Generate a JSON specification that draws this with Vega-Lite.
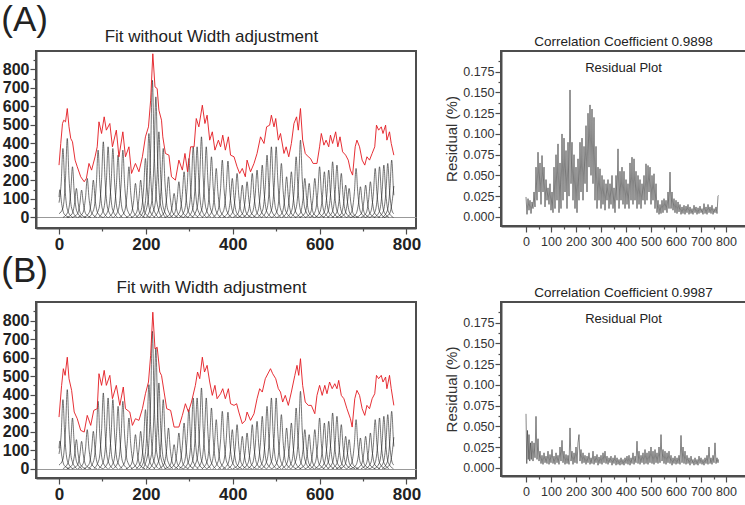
{
"$schema":"https://vega.github.io/schema/vega-lite/v6.json",
"padding":{"left":1,"top":2,"right":0,"bottom":0},
"config":{
"view":{"stroke":"#4d4d4d","strokeWidth":2},
"axis":{"domainColor":"#4d4d4d","domainWidth":2,"tickColor":"#4d4d4d","tickWidth":1.2,"grid":false,"labelColor":"#222","labelFont":"Liberation Sans","titleFont":"Liberation Sans","titleFontWeight":"normal","labelOverlap":false,"labelFlush":false,"labelBound":false},
"title":{"font":"Liberation Sans","fontWeight":"normal","color":"#222","subtitleFont":"Liberation Sans","subtitleColor":"#222"}
},
"datasets":{
"pk":[
{"p":1,"x":0,"y":110},{"p":1,"x":2,"y":150},{"p":1,"x":6,"y":75},{"p":1,"x":12,"y":18},{"p":1,"x":24,"y":0},
{"p":2,"x":0,"y":80},{"p":2,"x":5,"y":187},{"p":2,"x":9,"y":373},{"p":2,"x":13,"y":187},{"p":2,"x":19,"y":45},{"p":2,"x":31,"y":0},
{"p":3,"x":0,"y":20},{"p":3,"x":9,"y":51},{"p":3,"x":15,"y":214},{"p":3,"x":19,"y":427},{"p":3,"x":23,"y":214},{"p":3,"x":29,"y":51},{"p":3,"x":41,"y":0},
{"p":4,"x":9,"y":0},{"p":4,"x":21,"y":33},{"p":4,"x":27,"y":137},{"p":4,"x":31,"y":274},{"p":4,"x":35,"y":137},{"p":4,"x":41,"y":33},{"p":4,"x":53,"y":0},
{"p":5,"x":18,"y":0},{"p":5,"x":30,"y":19},{"p":5,"x":36,"y":79},{"p":5,"x":40,"y":157},{"p":5,"x":44,"y":79},{"p":5,"x":50,"y":19},{"p":5,"x":62,"y":0},
{"p":6,"x":30,"y":0},{"p":6,"x":42,"y":18},{"p":6,"x":48,"y":74},{"p":6,"x":52,"y":148},{"p":6,"x":56,"y":74},{"p":6,"x":62,"y":18},{"p":6,"x":74,"y":0},
{"p":7,"x":43,"y":0},{"p":7,"x":55,"y":25},{"p":7,"x":61,"y":106},{"p":7,"x":65,"y":211},{"p":7,"x":69,"y":106},{"p":7,"x":75,"y":25},{"p":7,"x":87,"y":0},
{"p":8,"x":57,"y":0},{"p":8,"x":69,"y":24},{"p":8,"x":75,"y":101},{"p":8,"x":79,"y":202},{"p":8,"x":83,"y":101},{"p":8,"x":89,"y":24},{"p":8,"x":101,"y":0},
{"p":9,"x":68,"y":0},{"p":9,"x":80,"y":44},{"p":9,"x":86,"y":182},{"p":9,"x":90,"y":364},{"p":9,"x":94,"y":182},{"p":9,"x":100,"y":44},{"p":9,"x":112,"y":0},
{"p":10,"x":80,"y":0},{"p":10,"x":92,"y":49},{"p":10,"x":98,"y":205},{"p":10,"x":102,"y":409},{"p":10,"x":106,"y":205},{"p":10,"x":112,"y":49},{"p":10,"x":124,"y":0},
{"p":11,"x":91,"y":0},{"p":11,"x":103,"y":46},{"p":11,"x":109,"y":191},{"p":11,"x":113,"y":382},{"p":11,"x":117,"y":191},{"p":11,"x":123,"y":46},{"p":11,"x":135,"y":0},
{"p":12,"x":102,"y":0},{"p":12,"x":114,"y":45},{"p":12,"x":120,"y":187},{"p":12,"x":124,"y":373},{"p":12,"x":128,"y":187},{"p":12,"x":134,"y":45},{"p":12,"x":146,"y":0},
{"p":13,"x":114,"y":0},{"p":13,"x":126,"y":40},{"p":13,"x":132,"y":169},{"p":13,"x":136,"y":337},{"p":13,"x":140,"y":169},{"p":13,"x":146,"y":40},{"p":13,"x":158,"y":0},
{"p":14,"x":125,"y":0},{"p":14,"x":137,"y":44},{"p":14,"x":143,"y":182},{"p":14,"x":147,"y":364},{"p":14,"x":151,"y":182},{"p":14,"x":157,"y":44},{"p":14,"x":169,"y":0},
{"p":15,"x":139,"y":0},{"p":15,"x":151,"y":33},{"p":15,"x":157,"y":137},{"p":15,"x":161,"y":274},{"p":15,"x":165,"y":137},{"p":15,"x":171,"y":33},{"p":15,"x":183,"y":0},
{"p":16,"x":154,"y":0},{"p":16,"x":166,"y":22},{"p":16,"x":172,"y":92},{"p":16,"x":176,"y":184},{"p":16,"x":180,"y":92},{"p":16,"x":186,"y":22},{"p":16,"x":198,"y":0},
{"p":17,"x":166,"y":0},{"p":17,"x":178,"y":24},{"p":17,"x":184,"y":101},{"p":17,"x":188,"y":202},{"p":17,"x":192,"y":101},{"p":17,"x":198,"y":24},{"p":17,"x":210,"y":0},
{"p":18,"x":177,"y":0},{"p":18,"x":189,"y":38},{"p":18,"x":195,"y":160},{"p":18,"x":199,"y":319},{"p":18,"x":203,"y":160},{"p":18,"x":209,"y":38},{"p":18,"x":221,"y":0},
{"p":19,"x":185,"y":0},{"p":19,"x":197,"y":54},{"p":19,"x":203,"y":227},{"p":19,"x":207,"y":454},{"p":19,"x":211,"y":227},{"p":19,"x":217,"y":54},{"p":19,"x":229,"y":0},
{"p":20,"x":193,"y":0},{"p":20,"x":205,"y":89},{"p":20,"x":211,"y":371},{"p":20,"x":215,"y":742},{"p":20,"x":219,"y":371},{"p":20,"x":225,"y":89},{"p":20,"x":237,"y":0},
{"p":21,"x":201,"y":0},{"p":21,"x":213,"y":78},{"p":21,"x":219,"y":326},{"p":21,"x":223,"y":652},{"p":21,"x":227,"y":326},{"p":21,"x":233,"y":78},{"p":21,"x":245,"y":0},
{"p":22,"x":208,"y":0},{"p":22,"x":220,"y":56},{"p":22,"x":226,"y":232},{"p":22,"x":230,"y":463},{"p":22,"x":234,"y":232},{"p":22,"x":240,"y":56},{"p":22,"x":252,"y":0},
{"p":23,"x":218,"y":0},{"p":23,"x":230,"y":45},{"p":23,"x":236,"y":187},{"p":23,"x":240,"y":373},{"p":23,"x":244,"y":187},{"p":23,"x":250,"y":45},{"p":23,"x":262,"y":0},
{"p":24,"x":230,"y":0},{"p":24,"x":242,"y":26},{"p":24,"x":248,"y":110},{"p":24,"x":252,"y":220},{"p":24,"x":256,"y":110},{"p":24,"x":262,"y":26},{"p":24,"x":274,"y":0},
{"p":25,"x":243,"y":0},{"p":25,"x":255,"y":16},{"p":25,"x":261,"y":65},{"p":25,"x":265,"y":130},{"p":25,"x":269,"y":65},{"p":25,"x":275,"y":16},{"p":25,"x":287,"y":0},
{"p":26,"x":254,"y":0},{"p":26,"x":266,"y":23},{"p":26,"x":272,"y":97},{"p":26,"x":276,"y":193},{"p":26,"x":280,"y":97},{"p":26,"x":286,"y":23},{"p":26,"x":298,"y":0},
{"p":27,"x":266,"y":0},{"p":27,"x":278,"y":30},{"p":27,"x":284,"y":124},{"p":27,"x":288,"y":247},{"p":27,"x":292,"y":124},{"p":27,"x":298,"y":30},{"p":27,"x":310,"y":0},
{"p":28,"x":277,"y":0},{"p":28,"x":289,"y":38},{"p":28,"x":295,"y":160},{"p":28,"x":299,"y":319},{"p":28,"x":303,"y":160},{"p":28,"x":309,"y":38},{"p":28,"x":321,"y":0},
{"p":29,"x":287,"y":0},{"p":29,"x":299,"y":46},{"p":29,"x":305,"y":191},{"p":29,"x":309,"y":382},{"p":29,"x":313,"y":191},{"p":29,"x":319,"y":46},{"p":29,"x":331,"y":0},
{"p":30,"x":296,"y":0},{"p":30,"x":308,"y":46},{"p":30,"x":314,"y":191},{"p":30,"x":318,"y":382},{"p":30,"x":322,"y":191},{"p":30,"x":328,"y":46},{"p":30,"x":340,"y":0},
{"p":31,"x":306,"y":0},{"p":31,"x":318,"y":52},{"p":31,"x":324,"y":218},{"p":31,"x":328,"y":436},{"p":31,"x":332,"y":218},{"p":31,"x":338,"y":52},{"p":31,"x":350,"y":0},
{"p":32,"x":317,"y":0},{"p":32,"x":329,"y":46},{"p":32,"x":335,"y":191},{"p":32,"x":339,"y":382},{"p":32,"x":343,"y":191},{"p":32,"x":349,"y":46},{"p":32,"x":361,"y":0},
{"p":33,"x":329,"y":0},{"p":33,"x":341,"y":39},{"p":33,"x":347,"y":164},{"p":33,"x":351,"y":328},{"p":33,"x":355,"y":164},{"p":33,"x":361,"y":39},{"p":33,"x":373,"y":0},
{"p":34,"x":340,"y":0},{"p":34,"x":352,"y":32},{"p":34,"x":358,"y":133},{"p":34,"x":362,"y":265},{"p":34,"x":366,"y":133},{"p":34,"x":372,"y":32},{"p":34,"x":384,"y":0},
{"p":35,"x":354,"y":0},{"p":35,"x":366,"y":37},{"p":35,"x":372,"y":155},{"p":35,"x":376,"y":310},{"p":35,"x":380,"y":155},{"p":35,"x":386,"y":37},{"p":35,"x":398,"y":0},
{"p":36,"x":367,"y":0},{"p":36,"x":379,"y":37},{"p":36,"x":385,"y":153},{"p":36,"x":389,"y":305},{"p":36,"x":393,"y":153},{"p":36,"x":399,"y":37},{"p":36,"x":411,"y":0},
{"p":37,"x":377,"y":0},{"p":37,"x":389,"y":25},{"p":37,"x":395,"y":106},{"p":37,"x":399,"y":211},{"p":37,"x":403,"y":106},{"p":37,"x":409,"y":25},{"p":37,"x":421,"y":0},
{"p":38,"x":388,"y":0},{"p":38,"x":400,"y":29},{"p":38,"x":406,"y":119},{"p":38,"x":410,"y":238},{"p":38,"x":414,"y":119},{"p":38,"x":420,"y":29},{"p":38,"x":432,"y":0},
{"p":39,"x":400,"y":0},{"p":39,"x":412,"y":21},{"p":39,"x":418,"y":88},{"p":39,"x":422,"y":175},{"p":39,"x":426,"y":88},{"p":39,"x":432,"y":21},{"p":39,"x":444,"y":0},
{"p":40,"x":411,"y":0},{"p":40,"x":423,"y":23},{"p":40,"x":429,"y":97},{"p":40,"x":433,"y":193},{"p":40,"x":437,"y":97},{"p":40,"x":443,"y":23},{"p":40,"x":455,"y":0},
{"p":41,"x":423,"y":0},{"p":41,"x":435,"y":29},{"p":41,"x":441,"y":119},{"p":41,"x":445,"y":238},{"p":41,"x":449,"y":119},{"p":41,"x":455,"y":29},{"p":41,"x":467,"y":0},
{"p":42,"x":434,"y":0},{"p":42,"x":446,"y":31},{"p":42,"x":452,"y":128},{"p":42,"x":456,"y":256},{"p":42,"x":460,"y":128},{"p":42,"x":466,"y":31},{"p":42,"x":478,"y":0},
{"p":43,"x":446,"y":0},{"p":43,"x":458,"y":34},{"p":43,"x":464,"y":142},{"p":43,"x":468,"y":283},{"p":43,"x":472,"y":142},{"p":43,"x":478,"y":34},{"p":43,"x":490,"y":0},
{"p":44,"x":457,"y":0},{"p":44,"x":469,"y":40},{"p":44,"x":475,"y":169},{"p":44,"x":479,"y":337},{"p":44,"x":483,"y":169},{"p":44,"x":489,"y":40},{"p":44,"x":501,"y":0},
{"p":45,"x":467,"y":0},{"p":45,"x":479,"y":46},{"p":45,"x":485,"y":191},{"p":45,"x":489,"y":382},{"p":45,"x":493,"y":191},{"p":45,"x":499,"y":46},{"p":45,"x":511,"y":0},
{"p":46,"x":478,"y":0},{"p":46,"x":490,"y":46},{"p":46,"x":496,"y":191},{"p":46,"x":500,"y":382},{"p":46,"x":504,"y":191},{"p":46,"x":510,"y":46},{"p":46,"x":522,"y":0},
{"p":47,"x":490,"y":0},{"p":47,"x":502,"y":35},{"p":47,"x":508,"y":146},{"p":47,"x":512,"y":292},{"p":47,"x":516,"y":146},{"p":47,"x":522,"y":35},{"p":47,"x":534,"y":0},
{"p":48,"x":502,"y":0},{"p":48,"x":514,"y":26},{"p":48,"x":520,"y":110},{"p":48,"x":524,"y":220},{"p":48,"x":528,"y":110},{"p":48,"x":534,"y":26},{"p":48,"x":546,"y":0},
{"p":49,"x":513,"y":0},{"p":49,"x":525,"y":30},{"p":49,"x":531,"y":124},{"p":49,"x":535,"y":247},{"p":49,"x":539,"y":124},{"p":49,"x":545,"y":30},{"p":49,"x":557,"y":0},
{"p":50,"x":524,"y":0},{"p":50,"x":536,"y":39},{"p":50,"x":542,"y":164},{"p":50,"x":546,"y":328},{"p":50,"x":550,"y":164},{"p":50,"x":556,"y":39},{"p":50,"x":568,"y":0},
{"p":51,"x":534,"y":0},{"p":51,"x":546,"y":50},{"p":51,"x":552,"y":209},{"p":51,"x":556,"y":418},{"p":51,"x":560,"y":209},{"p":51,"x":566,"y":50},{"p":51,"x":578,"y":0},
{"p":52,"x":544,"y":0},{"p":52,"x":556,"y":25},{"p":52,"x":562,"y":106},{"p":52,"x":566,"y":211},{"p":52,"x":570,"y":106},{"p":52,"x":576,"y":25},{"p":52,"x":588,"y":0},
{"p":53,"x":554,"y":0},{"p":53,"x":566,"y":22},{"p":53,"x":572,"y":92},{"p":53,"x":576,"y":184},{"p":53,"x":580,"y":92},{"p":53,"x":586,"y":22},{"p":53,"x":598,"y":0},
{"p":54,"x":567,"y":0},{"p":54,"x":579,"y":25},{"p":54,"x":585,"y":106},{"p":54,"x":589,"y":211},{"p":54,"x":593,"y":106},{"p":54,"x":599,"y":25},{"p":54,"x":611,"y":0},
{"p":55,"x":578,"y":0},{"p":55,"x":590,"y":33},{"p":55,"x":596,"y":137},{"p":55,"x":600,"y":274},{"p":55,"x":604,"y":137},{"p":55,"x":610,"y":33},{"p":55,"x":622,"y":0},
{"p":56,"x":589,"y":0},{"p":56,"x":601,"y":30},{"p":56,"x":607,"y":124},{"p":56,"x":611,"y":247},{"p":56,"x":615,"y":124},{"p":56,"x":621,"y":30},{"p":56,"x":633,"y":0},
{"p":57,"x":599,"y":0},{"p":57,"x":611,"y":31},{"p":57,"x":617,"y":128},{"p":57,"x":621,"y":256},{"p":57,"x":625,"y":128},{"p":57,"x":631,"y":31},{"p":57,"x":643,"y":0},
{"p":58,"x":608,"y":0},{"p":58,"x":620,"y":36},{"p":58,"x":626,"y":151},{"p":58,"x":630,"y":301},{"p":58,"x":634,"y":151},{"p":58,"x":640,"y":36},{"p":58,"x":652,"y":0},
{"p":59,"x":618,"y":0},{"p":59,"x":630,"y":34},{"p":59,"x":636,"y":142},{"p":59,"x":640,"y":283},{"p":59,"x":644,"y":142},{"p":59,"x":650,"y":34},{"p":59,"x":662,"y":0},
{"p":60,"x":628,"y":0},{"p":60,"x":640,"y":29},{"p":60,"x":646,"y":119},{"p":60,"x":650,"y":238},{"p":60,"x":654,"y":119},{"p":60,"x":660,"y":29},{"p":60,"x":672,"y":0},
{"p":61,"x":638,"y":0},{"p":61,"x":650,"y":21},{"p":61,"x":656,"y":88},{"p":61,"x":660,"y":175},{"p":61,"x":664,"y":88},{"p":61,"x":670,"y":21},{"p":61,"x":682,"y":0},
{"p":62,"x":646,"y":0},{"p":62,"x":658,"y":19},{"p":62,"x":664,"y":79},{"p":62,"x":668,"y":157},{"p":62,"x":672,"y":79},{"p":62,"x":678,"y":19},{"p":62,"x":690,"y":0},
{"p":63,"x":662,"y":0},{"p":63,"x":674,"y":32},{"p":63,"x":680,"y":133},{"p":63,"x":684,"y":265},{"p":63,"x":688,"y":133},{"p":63,"x":694,"y":32},{"p":63,"x":706,"y":0},
{"p":64,"x":672,"y":0},{"p":64,"x":684,"y":20},{"p":64,"x":690,"y":83},{"p":64,"x":694,"y":166},{"p":64,"x":698,"y":83},{"p":64,"x":704,"y":20},{"p":64,"x":716,"y":0},
{"p":65,"x":684,"y":0},{"p":65,"x":696,"y":21},{"p":65,"x":702,"y":88},{"p":65,"x":706,"y":175},{"p":65,"x":710,"y":88},{"p":65,"x":716,"y":21},{"p":65,"x":728,"y":0},
{"p":66,"x":695,"y":0},{"p":66,"x":707,"y":23},{"p":66,"x":713,"y":97},{"p":66,"x":717,"y":193},{"p":66,"x":721,"y":97},{"p":66,"x":727,"y":23},{"p":66,"x":739,"y":0},
{"p":67,"x":706,"y":0},{"p":67,"x":718,"y":32},{"p":67,"x":724,"y":133},{"p":67,"x":728,"y":265},{"p":67,"x":732,"y":133},{"p":67,"x":738,"y":32},{"p":67,"x":750,"y":0},
{"p":68,"x":716,"y":0},{"p":68,"x":728,"y":33},{"p":68,"x":734,"y":137},{"p":68,"x":738,"y":274},{"p":68,"x":742,"y":137},{"p":68,"x":748,"y":33},{"p":68,"x":760,"y":0},
{"p":69,"x":726,"y":0},{"p":69,"x":738,"y":34},{"p":69,"x":744,"y":142},{"p":69,"x":748,"y":283},{"p":69,"x":752,"y":142},{"p":69,"x":758,"y":34},{"p":69,"x":770,"y":0},
{"p":70,"x":735,"y":0},{"p":70,"x":747,"y":35},{"p":70,"x":753,"y":146},{"p":70,"x":757,"y":292},{"p":70,"x":761,"y":146},{"p":70,"x":767,"y":35},{"p":70,"x":771,"y":20},
{"p":71,"x":744,"y":0},{"p":71,"x":756,"y":37},{"p":71,"x":762,"y":155},{"p":71,"x":766,"y":310},{"p":71,"x":770,"y":155},{"p":71,"x":771,"y":120},
{"p":72,"x":749,"y":0},{"p":72,"x":761,"y":20},{"p":72,"x":767,"y":85},{"p":72,"x":771,"y":170}
],
"ea":[
{"x":0,"y":283},{"x":4,"y":400},{"x":8,"y":508},{"x":11,"y":526},{"x":15,"y":517},{"x":19,"y":589},{"x":23,"y":490},{"x":27,"y":427},{"x":31,"y":409},{"x":37,"y":310},{"x":42,"y":274},{"x":50,"y":220},{"x":58,"y":193},{"x":63,"y":211},{"x":69,"y":292},{"x":75,"y":256},{"x":83,"y":328},{"x":88,"y":382},{"x":92,"y":517},{"x":98,"y":454},{"x":104,"y":544},{"x":109,"y":472},{"x":117,"y":508},{"x":123,"y":382},{"x":132,"y":472},{"x":138,"y":328},{"x":147,"y":463},{"x":153,"y":328},{"x":161,"y":382},{"x":167,"y":238},{"x":176,"y":292},{"x":184,"y":247},{"x":192,"y":328},{"x":199,"y":436},{"x":206,"y":490},{"x":211,"y":634},{"x":216,"y":885},{"x":221,"y":706},{"x":226,"y":697},{"x":230,"y":580},{"x":236,"y":526},{"x":239,"y":436},{"x":245,"y":346},{"x":253,"y":337},{"x":259,"y":220},{"x":268,"y":202},{"x":276,"y":310},{"x":284,"y":256},{"x":290,"y":346},{"x":296,"y":247},{"x":303,"y":382},{"x":311,"y":382},{"x":316,"y":535},{"x":322,"y":490},{"x":330,"y":607},{"x":336,"y":508},{"x":341,"y":553},{"x":347,"y":418},{"x":353,"y":463},{"x":359,"y":364},{"x":367,"y":418},{"x":372,"y":382},{"x":377,"y":445},{"x":383,"y":364},{"x":390,"y":436},{"x":395,"y":337},{"x":403,"y":328},{"x":410,"y":274},{"x":416,"y":238},{"x":422,"y":265},{"x":429,"y":220},{"x":433,"y":310},{"x":441,"y":247},{"x":449,"y":292},{"x":456,"y":346},{"x":464,"y":436},{"x":472,"y":400},{"x":478,"y":490},{"x":485,"y":499},{"x":489,"y":553},{"x":495,"y":490},{"x":499,"y":535},{"x":505,"y":418},{"x":510,"y":454},{"x":518,"y":346},{"x":523,"y":382},{"x":529,"y":328},{"x":535,"y":400},{"x":541,"y":508},{"x":547,"y":544},{"x":551,"y":472},{"x":556,"y":589},{"x":561,"y":418},{"x":567,"y":346},{"x":574,"y":328},{"x":579,"y":319},{"x":585,"y":292},{"x":594,"y":292},{"x":600,"y":382},{"x":604,"y":454},{"x":610,"y":391},{"x":615,"y":418},{"x":621,"y":382},{"x":625,"y":445},{"x":630,"y":400},{"x":637,"y":463},{"x":642,"y":382},{"x":647,"y":436},{"x":653,"y":355},{"x":660,"y":337},{"x":666,"y":310},{"x":671,"y":256},{"x":676,"y":229},{"x":682,"y":382},{"x":686,"y":418},{"x":692,"y":382},{"x":698,"y":310},{"x":704,"y":283},{"x":709,"y":328},{"x":715,"y":310},{"x":721,"y":346},{"x":727,"y":382},{"x":731,"y":499},{"x":736,"y":472},{"x":742,"y":490},{"x":746,"y":454},{"x":752,"y":499},{"x":755,"y":418},{"x":761,"y":463},{"x":765,"y":400},{"x":771,"y":337}
],
"eb":[
{"x":0,"y":279},{"x":6,"y":450},{"x":10,"y":540},{"x":14,"y":504},{"x":19,"y":602},{"x":23,"y":486},{"x":29,"y":423},{"x":35,"y":306},{"x":42,"y":270},{"x":50,"y":207},{"x":58,"y":198},{"x":65,"y":288},{"x":73,"y":234},{"x":80,"y":315},{"x":88,"y":324},{"x":92,"y":513},{"x":98,"y":450},{"x":104,"y":531},{"x":109,"y":450},{"x":117,"y":504},{"x":123,"y":378},{"x":132,"y":450},{"x":140,"y":342},{"x":148,"y":441},{"x":153,"y":324},{"x":163,"y":306},{"x":169,"y":234},{"x":176,"y":270},{"x":184,"y":261},{"x":192,"y":324},{"x":199,"y":405},{"x":206,"y":468},{"x":211,"y":612},{"x":216,"y":845},{"x":221,"y":647},{"x":226,"y":656},{"x":232,"y":522},{"x":236,"y":504},{"x":242,"y":414},{"x":248,"y":324},{"x":257,"y":315},{"x":265,"y":225},{"x":276,"y":225},{"x":284,"y":288},{"x":291,"y":351},{"x":298,"y":306},{"x":305,"y":360},{"x":314,"y":450},{"x":319,"y":522},{"x":324,"y":486},{"x":330,"y":602},{"x":335,"y":522},{"x":341,"y":558},{"x":347,"y":468},{"x":353,"y":396},{"x":359,"y":450},{"x":364,"y":378},{"x":372,"y":405},{"x":377,"y":432},{"x":383,"y":378},{"x":390,"y":432},{"x":395,"y":351},{"x":403,"y":342},{"x":409,"y":351},{"x":414,"y":306},{"x":422,"y":243},{"x":429,"y":261},{"x":433,"y":306},{"x":441,"y":261},{"x":449,"y":297},{"x":456,"y":378},{"x":462,"y":432},{"x":468,"y":414},{"x":475,"y":486},{"x":483,"y":522},{"x":487,"y":540},{"x":492,"y":513},{"x":499,"y":486},{"x":505,"y":432},{"x":510,"y":414},{"x":515,"y":360},{"x":521,"y":396},{"x":528,"y":342},{"x":535,"y":414},{"x":543,"y":504},{"x":548,"y":558},{"x":552,"y":504},{"x":556,"y":594},{"x":561,"y":450},{"x":567,"y":360},{"x":574,"y":342},{"x":581,"y":342},{"x":589,"y":297},{"x":594,"y":396},{"x":600,"y":450},{"x":606,"y":396},{"x":612,"y":450},{"x":617,"y":405},{"x":623,"y":468},{"x":629,"y":432},{"x":635,"y":459},{"x":640,"y":432},{"x":644,"y":477},{"x":650,"y":396},{"x":656,"y":378},{"x":663,"y":324},{"x":671,"y":270},{"x":675,"y":225},{"x":681,"y":378},{"x":686,"y":423},{"x":692,"y":396},{"x":698,"y":324},{"x":704,"y":288},{"x":709,"y":342},{"x":715,"y":324},{"x":721,"y":378},{"x":727,"y":405},{"x":731,"y":504},{"x":736,"y":486},{"x":742,"y":504},{"x":746,"y":468},{"x":752,"y":495},{"x":755,"y":432},{"x":761,"y":504},{"x":765,"y":432},{"x":771,"y":342}
],
"ra":[
{"x":0,"y":0.024},{"x":4,"y":0.003},{"x":8,"y":0.022},{"x":12,"y":0.008},{"x":16,"y":0.02},{"x":20,"y":0.004},{"x":24,"y":0.018},{"x":28,"y":0.01},{"x":32,"y":0.03},{"x":36,"y":0.012},{"x":40,"y":0.06},{"x":44,"y":0.02},{"x":48,"y":0.078},{"x":52,"y":0.03},{"x":56,"y":0.065},{"x":60,"y":0.015},{"x":64,"y":0.074},{"x":68,"y":0.03},{"x":72,"y":0.06},{"x":76,"y":0.012},{"x":80,"y":0.045},{"x":84,"y":0.02},{"x":88,"y":0.035},{"x":92,"y":0.015},{"x":96,"y":0.04},{"x":100,"y":0.008},{"x":104,"y":0.03},{"x":108,"y":0.005},{"x":112,"y":0.06},{"x":116,"y":0.01},{"x":120,"y":0.075},{"x":124,"y":0.02},{"x":128,"y":0.088},{"x":132,"y":0.005},{"x":136,"y":0.065},{"x":140,"y":0.01},{"x":144,"y":0.1},{"x":148,"y":0.02},{"x":152,"y":0.095},{"x":156,"y":0.03},{"x":160,"y":0.08},{"x":164,"y":0.01},{"x":168,"y":0.09},{"x":172,"y":0.025},{"x":176,"y":0.153},{"x":180,"y":0.04},{"x":184,"y":0.09},{"x":188,"y":0.02},{"x":192,"y":0.075},{"x":196,"y":0.01},{"x":200,"y":0.06},{"x":204,"y":0.005},{"x":208,"y":0.07},{"x":212,"y":0.02},{"x":216,"y":0.09},{"x":220,"y":0.03},{"x":224,"y":0.095},{"x":228,"y":0.02},{"x":232,"y":0.085},{"x":236,"y":0.04},{"x":240,"y":0.11},{"x":244,"y":0.03},{"x":248,"y":0.125},{"x":252,"y":0.06},{"x":256,"y":0.135},{"x":260,"y":0.05},{"x":264,"y":0.13},{"x":268,"y":0.04},{"x":272,"y":0.12},{"x":276,"y":0.02},{"x":280,"y":0.085},{"x":284,"y":0.01},{"x":288,"y":0.06},{"x":292,"y":0.02},{"x":296,"y":0.058},{"x":300,"y":0.01},{"x":304,"y":0.05},{"x":308,"y":0.015},{"x":312,"y":0.045},{"x":316,"y":0.008},{"x":320,"y":0.04},{"x":324,"y":0.02},{"x":328,"y":0.045},{"x":332,"y":0.01},{"x":336,"y":0.04},{"x":340,"y":0.015},{"x":344,"y":0.05},{"x":348,"y":0.01},{"x":352,"y":0.035},{"x":356,"y":0.005},{"x":360,"y":0.05},{"x":364,"y":0.02},{"x":368,"y":0.082},{"x":372,"y":0.01},{"x":376,"y":0.055},{"x":380,"y":0.02},{"x":384,"y":0.06},{"x":388,"y":0.015},{"x":392,"y":0.055},{"x":396,"y":0.01},{"x":400,"y":0.045},{"x":404,"y":0.015},{"x":408,"y":0.04},{"x":412,"y":0.01},{"x":416,"y":0.065},{"x":420,"y":0.02},{"x":424,"y":0.072},{"x":428,"y":0.015},{"x":432,"y":0.07},{"x":436,"y":0.02},{"x":440,"y":0.055},{"x":444,"y":0.01},{"x":448,"y":0.05},{"x":452,"y":0.015},{"x":456,"y":0.045},{"x":460,"y":0.01},{"x":464,"y":0.04},{"x":468,"y":0.02},{"x":472,"y":0.05},{"x":476,"y":0.015},{"x":480,"y":0.064},{"x":484,"y":0.02},{"x":488,"y":0.062},{"x":492,"y":0.03},{"x":496,"y":0.06},{"x":500,"y":0.015},{"x":504,"y":0.05},{"x":508,"y":0.02},{"x":512,"y":0.052},{"x":516,"y":0.01},{"x":520,"y":0.04},{"x":524,"y":0.005},{"x":528,"y":0.02},{"x":532,"y":0.003},{"x":536,"y":0.015},{"x":540,"y":0.004},{"x":544,"y":0.02},{"x":548,"y":0.005},{"x":552,"y":0.022},{"x":556,"y":0.008},{"x":560,"y":0.02},{"x":564,"y":0.005},{"x":568,"y":0.03},{"x":572,"y":0.01},{"x":576,"y":0.054},{"x":580,"y":0.01},{"x":584,"y":0.03},{"x":588,"y":0.008},{"x":592,"y":0.022},{"x":596,"y":0.005},{"x":600,"y":0.02},{"x":604,"y":0.004},{"x":608,"y":0.018},{"x":612,"y":0.006},{"x":616,"y":0.015},{"x":620,"y":0.003},{"x":624,"y":0.012},{"x":628,"y":0.004},{"x":632,"y":0.014},{"x":636,"y":0.003},{"x":640,"y":0.013},{"x":644,"y":0.005},{"x":648,"y":0.015},{"x":652,"y":0.003},{"x":656,"y":0.012},{"x":660,"y":0.004},{"x":664,"y":0.01},{"x":668,"y":0.003},{"x":672,"y":0.014},{"x":676,"y":0.005},{"x":680,"y":0.012},{"x":684,"y":0.003},{"x":688,"y":0.011},{"x":692,"y":0.004},{"x":696,"y":0.013},{"x":700,"y":0.005},{"x":704,"y":0.01},{"x":708,"y":0.003},{"x":712,"y":0.016},{"x":716,"y":0.004},{"x":720,"y":0.012},{"x":724,"y":0.003},{"x":728,"y":0.015},{"x":732,"y":0.005},{"x":736,"y":0.012},{"x":740,"y":0.004},{"x":744,"y":0.014},{"x":748,"y":0.003},{"x":752,"y":0.01},{"x":756,"y":0.005},{"x":760,"y":0.012},{"x":764,"y":0.004},{"x":768,"y":0.025},{"x":770,"y":0.026}
],
"rb":[
{"x":0,"y":0.065},{"x":3,"y":0.005},{"x":6,"y":0.045},{"x":9,"y":0.01},{"x":12,"y":0.04},{"x":15,"y":0.008},{"x":18,"y":0.03},{"x":21,"y":0.01},{"x":24,"y":0.032},{"x":28,"y":0.008},{"x":32,"y":0.03},{"x":36,"y":0.012},{"x":40,"y":0.062},{"x":44,"y":0.01},{"x":48,"y":0.035},{"x":52,"y":0.008},{"x":56,"y":0.02},{"x":60,"y":0.005},{"x":64,"y":0.015},{"x":68,"y":0.004},{"x":72,"y":0.018},{"x":76,"y":0.006},{"x":80,"y":0.014},{"x":84,"y":0.005},{"x":88,"y":0.02},{"x":92,"y":0.004},{"x":96,"y":0.016},{"x":100,"y":0.006},{"x":104,"y":0.022},{"x":108,"y":0.005},{"x":112,"y":0.014},{"x":116,"y":0.004},{"x":120,"y":0.018},{"x":124,"y":0.006},{"x":128,"y":0.015},{"x":132,"y":0.004},{"x":136,"y":0.025},{"x":140,"y":0.008},{"x":144,"y":0.033},{"x":148,"y":0.006},{"x":152,"y":0.02},{"x":156,"y":0.004},{"x":160,"y":0.016},{"x":164,"y":0.005},{"x":168,"y":0.015},{"x":172,"y":0.004},{"x":176,"y":0.048},{"x":180,"y":0.008},{"x":184,"y":0.02},{"x":188,"y":0.004},{"x":192,"y":0.018},{"x":196,"y":0.006},{"x":200,"y":0.025},{"x":204,"y":0.005},{"x":208,"y":0.03},{"x":212,"y":0.04},{"x":216,"y":0.008},{"x":220,"y":0.022},{"x":224,"y":0.005},{"x":228,"y":0.018},{"x":232,"y":0.006},{"x":236,"y":0.015},{"x":240,"y":0.004},{"x":244,"y":0.014},{"x":248,"y":0.006},{"x":252,"y":0.018},{"x":256,"y":0.004},{"x":260,"y":0.012},{"x":264,"y":0.005},{"x":268,"y":0.02},{"x":272,"y":0.004},{"x":276,"y":0.014},{"x":280,"y":0.006},{"x":284,"y":0.016},{"x":288,"y":0.003},{"x":292,"y":0.013},{"x":296,"y":0.005},{"x":300,"y":0.015},{"x":304,"y":0.004},{"x":308,"y":0.018},{"x":312,"y":0.006},{"x":316,"y":0.02},{"x":320,"y":0.005},{"x":324,"y":0.014},{"x":328,"y":0.004},{"x":332,"y":0.012},{"x":336,"y":0.006},{"x":340,"y":0.014},{"x":344,"y":0.003},{"x":348,"y":0.012},{"x":352,"y":0.005},{"x":356,"y":0.015},{"x":360,"y":0.003},{"x":364,"y":0.012},{"x":368,"y":0.004},{"x":372,"y":0.01},{"x":376,"y":0.003},{"x":380,"y":0.012},{"x":384,"y":0.004},{"x":388,"y":0.01},{"x":392,"y":0.003},{"x":396,"y":0.012},{"x":400,"y":0.005},{"x":404,"y":0.014},{"x":408,"y":0.004},{"x":412,"y":0.015},{"x":416,"y":0.003},{"x":420,"y":0.012},{"x":424,"y":0.005},{"x":428,"y":0.018},{"x":432,"y":0.004},{"x":436,"y":0.014},{"x":440,"y":0.006},{"x":444,"y":0.032},{"x":448,"y":0.005},{"x":452,"y":0.02},{"x":456,"y":0.004},{"x":460,"y":0.015},{"x":464,"y":0.006},{"x":468,"y":0.018},{"x":472,"y":0.004},{"x":476,"y":0.022},{"x":480,"y":0.005},{"x":484,"y":0.018},{"x":488,"y":0.004},{"x":492,"y":0.02},{"x":496,"y":0.006},{"x":500,"y":0.025},{"x":504,"y":0.005},{"x":508,"y":0.02},{"x":512,"y":0.004},{"x":516,"y":0.022},{"x":520,"y":0.006},{"x":524,"y":0.018},{"x":528,"y":0.005},{"x":532,"y":0.025},{"x":536,"y":0.006},{"x":540,"y":0.04},{"x":544,"y":0.008},{"x":548,"y":0.022},{"x":552,"y":0.005},{"x":556,"y":0.02},{"x":560,"y":0.004},{"x":564,"y":0.018},{"x":568,"y":0.006},{"x":572,"y":0.02},{"x":576,"y":0.005},{"x":580,"y":0.015},{"x":584,"y":0.003},{"x":588,"y":0.012},{"x":592,"y":0.005},{"x":596,"y":0.014},{"x":600,"y":0.004},{"x":604,"y":0.012},{"x":608,"y":0.005},{"x":612,"y":0.015},{"x":616,"y":0.004},{"x":620,"y":0.039},{"x":624,"y":0.006},{"x":628,"y":0.025},{"x":632,"y":0.005},{"x":636,"y":0.02},{"x":640,"y":0.004},{"x":644,"y":0.015},{"x":648,"y":0.005},{"x":652,"y":0.012},{"x":656,"y":0.003},{"x":660,"y":0.014},{"x":664,"y":0.005},{"x":668,"y":0.01},{"x":672,"y":0.003},{"x":676,"y":0.012},{"x":680,"y":0.004},{"x":684,"y":0.01},{"x":688,"y":0.003},{"x":692,"y":0.014},{"x":696,"y":0.005},{"x":700,"y":0.012},{"x":704,"y":0.004},{"x":708,"y":0.01},{"x":712,"y":0.003},{"x":716,"y":0.012},{"x":720,"y":0.005},{"x":724,"y":0.015},{"x":728,"y":0.004},{"x":732,"y":0.025},{"x":736,"y":0.005},{"x":740,"y":0.012},{"x":744,"y":0.004},{"x":748,"y":0.015},{"x":752,"y":0.006},{"x":756,"y":0.03},{"x":760,"y":0.005},{"x":764,"y":0.012},{"x":768,"y":0.006},{"x":770,"y":0.01}
]
},
"spacing":0,
"vconcat":[
{"title":{"text":"(A)","fontSize":35,"anchor":"start","offset":-10.5,"color":"#222"},
"spacing":21,
"hconcat":[
{"width":380,"height":177,
"title":{"text":"Fit without Width adjustment","fontSize":17,"frame":"bounds","anchor":"middle","offset":5},
"encoding":{
"x":{"field":"x","type":"quantitative","scale":{"domain":[-53,822],"nice":false,"zero":false},"axis":{"title":null,"values":[0,100,200,300,400,500,600,700,800],"labelExpr":"datum.value % 200 ? '' : datum.label","tickSize":{"condition":{"test":"datum.value % 200 !== 0","value":3},"value":6},"labelFontSize":17,"labelFontWeight":"bold","labelPadding":2,"labelOverlap":false}},
"y":{"field":"y","type":"quantitative","scale":{"domain":[-57,900],"nice":false,"zero":false},"axis":{"title":null,"values":[0,50,100,150,200,250,300,350,400,450,500,550,600,650,700,750,800,850],"labelExpr":"datum.value % 100 ? '' : datum.label","tickSize":{"condition":{"test":"datum.value % 100 !== 0","value":3},"value":6},"labelFontSize":16,"labelFontWeight":"bold","labelPadding":1,"labelOverlap":false,"grid":true,"gridColor":"#999999","gridWidth":1,"gridOpacity":{"condition":{"test":"datum.value === 0","value":1},"value":0}}}
},
"layer":[
{"data":{"name":"pk"},"mark":{"type":"line","interpolate":"monotone","color":"#1a1a1a","strokeWidth":0.6},"encoding":{"detail":{"field":"p","type":"nominal"}}},
{"data":{"name":"ea"},"mark":{"type":"line","color":"#e3191f","strokeWidth":0.9},"encoding":{}}
]},
{"width":245,"height":175,
"title":{"text":"Correlation Coefficient 0.9898","subtitle":"Residual Plot","fontSize":13.5,"subtitleFontSize":13,"frame":"group","anchor":"middle","offset":-24,"subtitlePadding":14},
"data":{"name":"ra"},
"mark":{"type":"line","color":"#333333","strokeWidth":0.6},
"encoding":{"x":{"field":"x","type":"quantitative","scale":{"domain":[-100,880],"nice":false,"zero":false},"axis":{"title":null,"values":[0,50,100,150,200,250,300,350,400,450,500,550,600,650,700,750,800],"labelExpr":"datum.value % 100 ? '' : datum.label","tickSize":{"condition":{"test":"datum.value % 100 !== 0","value":3},"value":6},"labelFontSize":12.5,"labelPadding":3,"labelColor":"#333","labelOverlap":false}},
"y":{"field":"y","type":"quantitative","scale":{"domain":[-0.011,0.2],"nice":false,"zero":false},"axis":{"title":"Residual (%)","titleFontSize":15,"titleColor":"#333","titlePadding":3,"values":[0,0.0125,0.025,0.0375,0.05,0.0625,0.075,0.0875,0.1,0.1125,0.125,0.1375,0.15,0.1625,0.175,0.1875],"labelExpr":"round(datum.value*1000) % 25 ? '' : format(datum.value,'.3f')","tickSize":{"condition":{"test":"round(datum.value*1000) % 25 !== 0","value":3},"value":6},"labelFontSize":12.5,"labelPadding":1,"labelColor":"#333","labelOverlap":false}}}}
]},
{"title":{"text":"(B)","fontSize":35,"anchor":"start","offset":-10.5,"color":"#222"},
"spacing":21,
"hconcat":[
{"width":380,"height":176,
"title":{"text":"Fit with Width adjustment","fontSize":17,"frame":"bounds","anchor":"middle","offset":5},
"encoding":{
"x":{"field":"x","type":"quantitative","scale":{"domain":[-53,822],"nice":false,"zero":false},"axis":{"title":null,"values":[0,100,200,300,400,500,600,700,800],"labelExpr":"datum.value % 200 ? '' : datum.label","tickSize":{"condition":{"test":"datum.value % 200 !== 0","value":3},"value":6},"labelFontSize":17,"labelFontWeight":"bold","labelPadding":2,"labelOverlap":false}},
"y":{"field":"y","type":"quantitative","scale":{"domain":[-50,900],"nice":false,"zero":false},"axis":{"title":null,"values":[0,50,100,150,200,250,300,350,400,450,500,550,600,650,700,750,800,850],"labelExpr":"datum.value % 100 ? '' : datum.label","tickSize":{"condition":{"test":"datum.value % 100 !== 0","value":3},"value":6},"labelFontSize":16,"labelFontWeight":"bold","labelPadding":1,"labelOverlap":false,"grid":true,"gridColor":"#999999","gridWidth":1,"gridOpacity":{"condition":{"test":"datum.value === 0","value":1},"value":0}}}
},
"layer":[
{"data":{"name":"pk"},"mark":{"type":"line","interpolate":"monotone","color":"#1a1a1a","strokeWidth":0.6},"encoding":{"detail":{"field":"p","type":"nominal"}}},
{"data":{"name":"eb"},"mark":{"type":"line","color":"#e3191f","strokeWidth":0.9},"encoding":{}}
]},
{"width":245,"height":174,
"title":{"text":"Correlation Coefficient 0.9987","subtitle":"Residual Plot","fontSize":13.5,"subtitleFontSize":13,"frame":"group","anchor":"middle","offset":-24,"subtitlePadding":14},
"data":{"name":"rb"},
"mark":{"type":"line","color":"#333333","strokeWidth":0.6},
"encoding":{"x":{"field":"x","type":"quantitative","scale":{"domain":[-100,880],"nice":false,"zero":false},"axis":{"title":null,"values":[0,50,100,150,200,250,300,350,400,450,500,550,600,650,700,750,800],"labelExpr":"datum.value % 100 ? '' : datum.label","tickSize":{"condition":{"test":"datum.value % 100 !== 0","value":3},"value":6},"labelFontSize":12.5,"labelPadding":3,"labelColor":"#333","labelOverlap":false}},
"y":{"field":"y","type":"quantitative","scale":{"domain":[-0.01,0.2],"nice":false,"zero":false},"axis":{"title":"Residual (%)","titleFontSize":15,"titleColor":"#333","titlePadding":3,"values":[0,0.0125,0.025,0.0375,0.05,0.0625,0.075,0.0875,0.1,0.1125,0.125,0.1375,0.15,0.1625,0.175,0.1875],"labelExpr":"round(datum.value*1000) % 25 ? '' : format(datum.value,'.3f')","tickSize":{"condition":{"test":"round(datum.value*1000) % 25 !== 0","value":3},"value":6},"labelFontSize":12.5,"labelPadding":1,"labelColor":"#333","labelOverlap":false}}}}
]}
]
}
